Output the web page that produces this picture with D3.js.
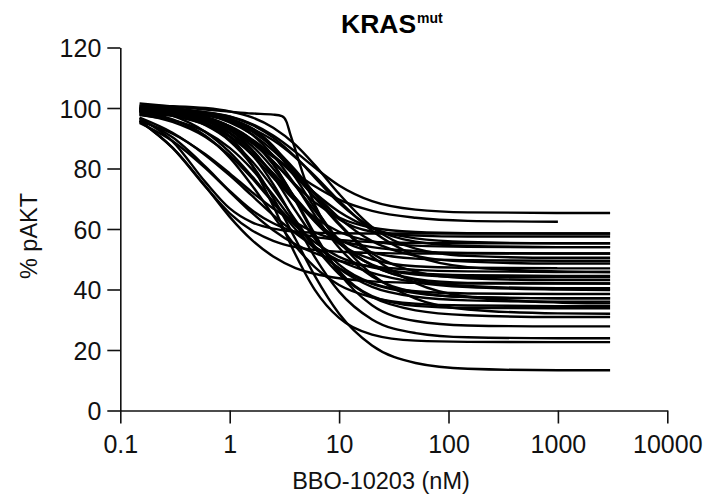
<!DOCTYPE html>
<html>
<head>
<meta charset="utf-8">
<script src="https://cdn.jsdelivr.net/npm/d3@7"></script>
<style>
  html, body { margin: 0; padding: 0; background: #fff; }
  svg { display: block; font-family: "Liberation Sans", Arial, sans-serif; }
  .axis path, .axis line { stroke: #111; stroke-width: 1.6; }
  .axis text { font-size: 25px; fill: #111; }
  .curve { fill: none; stroke: #000; stroke-width: 2.4; }
</style>
</head>
<body>
<div id="chart"></div>
<script>
// shared dose grid (nM) for the fitted curves
const doses = [0.15, 0.3, 0.6, 1, 1.6, 2.5, 4, 6, 10, 20, 50, 150, 1000, 3000];

// % pAKT per cell line, one row per curve (null = curve not drawn there)
const curves = [
  [100, 99.5, 98.6, 97.2, 94.7, 90.9, 85.5, 80.3, 74.4, 69.2, 66.4, 65.5, 65.3, 65.3],
  [100, 98.7, 96.1, 92.8, 88.7, 83.8, 78.4, 74.1, 69.7, 66.0, 63.7, 62.7, 62.4, null],
  [96.6, 89.0, 75.5, 66.8, 62.2, 60.1, 59.1, 58.8, 58.6, 58.5, 58.5, 58.5, 58.5, 58.5],
  [99.0, 98.8, 98.1, 96.5, 93.3, 87.4, 78.3, 70.3, 63.2, 59.1, 57.8, 57.5, 57.5, 57.5],
  [96.2, 90.3, 80.6, 72.6, 66.2, 61.9, 59.0, 57.4, 56.4, 55.7, 55.4, 55.3, 55.3, 55.3],
  [99.3, 98.2, 95.2, 90.7, 84.5, 77.0, 69.2, 63.8, 59.1, 55.9, 54.5, 54.1, 54, 54],
  [95.6, 91.5, 84.7, 78.4, 72.2, 66.8, 62.1, 58.9, 56.2, 54.0, 52.7, 52.1, 51.9, 51.9],
  [100.5, 99.7, 97.9, 95.2, 91.3, 85.9, 78.6, 71.7, 63.7, 56.0, 51.1, 49.2, 48.6, 48.6],
  [98.7, 98.0, 96.1, 92.8, 87.5, 79.9, 70.2, 62.4, 55.2, 50.0, 47.7, 47.2, 47, 47],
  [99.6, 99.0, 97.7, 95.8, 93.2, 89.3, 83.6, 77.6, 69.3, 59.4, 51.2, 47.4, 46.0, 45.8],
  [100, 97.5, 92.1, 85.4, 77.4, 69.1, 61.1, 55.6, 50.8, 47.3, 45.4, 44.7, 44.5, 44.5],
  [99.7, 99.1, 97.8, 95.7, 92.2, 87.0, 79.4, 71.6, 61.8, 52.0, 45.9, 43.7, 43.1, 43.1],
  [98.9, 97.4, 94.5, 90.5, 85.1, 78.4, 70.2, 63.1, 55.3, 48.0, 43.1, 41.2, 40.4, 40.4],
  [96.8, 91.8, 84.4, 77.7, 71.0, 64.6, 58.6, 54.1, 49.6, 45.5, 42.4, 40.8, 40.0, 39.8],
  [100.7, 100, 98.4, 95.8, 91.2, 84.3, 74.4, 64.6, 53.8, 44.3, 39.1, 37.5, 37.1, 37.1],
  [97.7, 96.0, 92.1, 86.8, 79.7, 71.2, 61.6, 54.2, 46.9, 40.9, 37.6, 36.4, 36, 36],
  [99.1, 98.0, 95.9, 93.2, 89.3, 84.2, 77.3, 70.4, 61.4, 50.9, 42.1, 37.6, 35.7, 35.4],
  [98.5, 96.2, 90.8, 83.6, 74.4, 64.4, 54.3, 47.4, 41.5, 37.4, 35.3, 34.7, 34.5, 34.5],
  [97.9, 97.5, 96.3, 94.0, 89.4, 81.5, 69.3, 57.7, 46.1, 37.8, 34.6, 33.9, 33.8, 33.8],
  [99.2, 98.2, 96.0, 92.9, 88.4, 82.4, 74.1, 66.0, 55.9, 45.0, 37.0, 33.4, 32.1, 32],
  [99.9, 98.3, 94.6, 89.5, 82.4, 73.5, 62.9, 54.2, 45.1, 37.5, 33.1, 31.5, 30.9, 30.9],
  [98.7, 98.2, 96.6, 93.9, 89.0, 81.3, 69.7, 58.3, 45.5, 34.8, 29.6, 28.1, 27.8, 27.8],
  [99.5, 98.5, 95.8, 91.6, 84.6, 74.8, 62.0, 50.7, 39.3, 30.1, 25.6, 24.2, 23.9, 23.9],
  [99.6, 98.8, 96.0, 90.6, 81.1, 67.6, 51.5, 39.9, 30.6, 25.1, 23.1, 22.7, 22.6, 22.6],
  [99.1, 97.7, 94.3, 89.1, 81.1, 70.3, 56.6, 44.5, 32.0, 21.5, 15.7, 13.8, 13.3, 13.3],
  [99.7, 99.0, 97.1, 93.9, 88.9, 82.2, 74.6, 68.8, 63.8, 60.4, 59.0, 58.6, 58.5, 58.5],
  [99.4, 98.5, 96.5, 93.7, 89.6, 84.3, 77.7, 71.9, 65.7, 60.2, 56.9, 55.7, 55.3, 55.3],
  [95.8, 86.8, 74.0, 65.2, 59.5, 56.1, 54.0, 53.1, 52.5, 52.1, 51.9, 51.9, 51.9, 51.9],
  [95.1, 89.1, 80.1, 72.3, 65.3, 59.6, 54.9, 52.0, 49.5, 47.6, 46.5, 46.0, 45.8, 45.8],
  [97.9, 95.4, 90.4, 84.3, 76.8, 68.6, 59.9, 53.4, 47.1, 41.9, 38.8, 37.5, 37.1, 37.1],
  [99.8, 99.5, 98.6, 97.1, 94.4, 90.2, 83.8, 77.0, 68.6, 60.5, 55.8, 54.4, 54, 54],
  [95.7, 86.9, 74.1, 64.0, 56.3, 50.9, 47.1, 45.2, 43.7, 42.7, 42.2, 42.0, 42, 42],
  [99.4, 98.4, 95.9, 91.9, 85.9, 78.2, 69.3, 62.7, 56.6, 52.3, 50.2, 49.7, 49.5, 49.5],
  [98.9, 98.7, 97.8, 96.1, 92.7, 86.7, 76.9, 67.0, 56.3, 48.2, 44.9, 44.1, 44, 44],
  [99.6, 98.8, 96.6, 92.7, 86.3, 77.4, 66.0, 56.8, 48.2, 42.1, 39.4, 38.7, 38.5, 38.5],
  [100.8, 100.6, 100.0, 98.9, 96.9, 93.5, 87.8, 81.1, 71.6, 60.7, 53.5, 51.1, 50.5, 50.5]
];

// the one very steep curve needs its own dose points
const steepDoses = [0.15, 0.3, 0.6, 1, 1.6, 2.5, 3.0, 3.3, 3.6, 4.0, 4.6, 6, 10, 20, 50, 150, 3000];
const steepValues = [101.5, 100.5, 99.5, 98.8, 98.2, 97.8, 97.3, 95.5, 91, 86, 79, 68, 56, 48, 43.5, 42.2, 42];

const yTicks = [0, 20, 40, 60, 80, 100, 120];
const xTicks = [0.1, 1, 10, 100, 1000, 10000];
const xTickLabels = ["0.1", "1", "10", "100", "1000", "10000"];

const width = 710, height = 498;

const svg = d3.select("#chart").append("svg")
  .attr("width", width)
  .attr("height", height);

svg.append("rect").attr("width", width).attr("height", height).attr("fill", "#fff");

const x = d3.scaleLog().domain([0.1, 10000]).range([120.3, 667.3]);
const y = d3.scaleLinear().domain([0, 120]).range([410.5, 47.5]);

// curves
const line = d3.line()
  .defined(d => d[1] != null)
  .x(d => x(d[0]))
  .y(d => y(d[1]))
  .curve(d3.curveMonotoneX);

const series = curves.map(vals => vals.map((v, i) => [doses[i], v]));
series.push(steepDoses.map((d, i) => [d, steepValues[i]]));

svg.append("g").selectAll("path")
  .data(series)
  .enter()
  .append("path")
  .attr("class", "curve")
  .attr("d", line);

// axes
svg.append("g")
  .attr("class", "axis")
  .attr("transform", `translate(${x(0.1)},0)`)
  .call(d3.axisLeft(y).tickValues(yTicks).tickSize(13).tickSizeOuter(0).tickPadding(6).tickFormat(d3.format("d")))
  .selectAll("text")
  .attr("dy", "0.36em");

svg.append("g")
  .attr("class", "axis")
  .attr("transform", `translate(0,${y(0)})`)
  .call(d3.axisBottom(x).tickValues(xTicks).tickSize(13).tickSizeOuter(0).tickPadding(12)
    .tickFormat((d, i) => xTickLabels[i]));

// titles
svg.append("text")
  .attr("x", 381)
  .attr("y", 489)
  .attr("text-anchor", "middle")
  .style("font-size", "23.5px")
  .style("fill", "#111")
  .text("BBO-10203 (nM)");

svg.append("text")
  .attr("transform", "translate(37,236) rotate(-90)")
  .attr("text-anchor", "middle")
  .style("font-size", "23.5px")
  .style("fill", "#111")
  .text("% pAKT");

const title = svg.append("text")
  .attr("x", 341)
  .attr("y", 33)
  .style("font-weight", "bold")
  .style("font-size", "26.5px")
  .style("fill", "#000");
title.append("tspan").text("KRAS");
title.append("tspan")
  .attr("dy", -10)
  .attr("dx", 1)
  .style("font-size", "14px")
  .text("mut");
</script>
</body>
</html>
